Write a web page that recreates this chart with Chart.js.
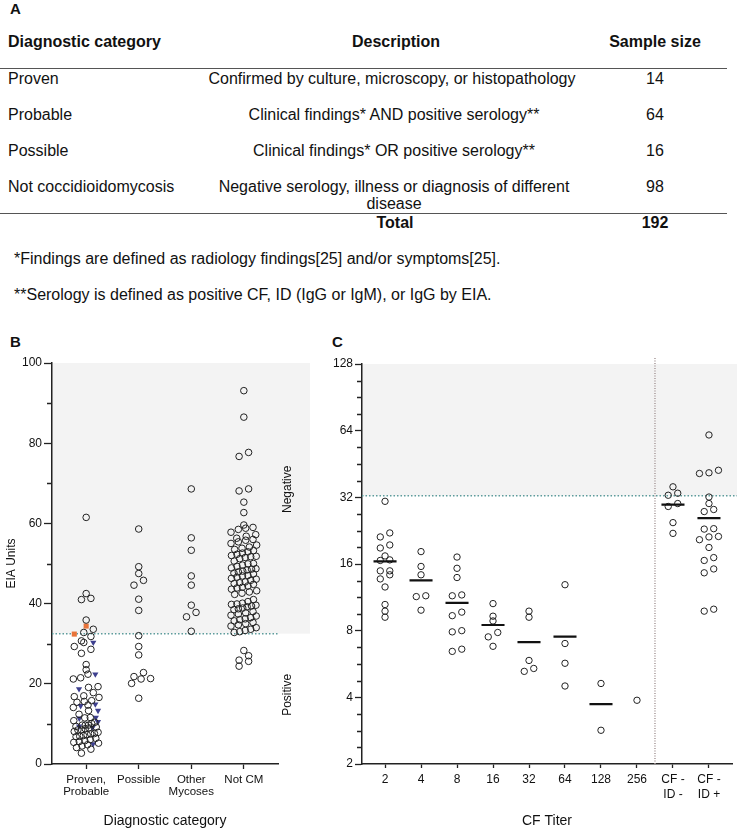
<!DOCTYPE html>
<html>
<head>
<meta charset="utf-8">
<title>EIA by diagnostic category and CF titer</title>
<script src="https://cdn.jsdelivr.net/npm/chart.js@4.4.1/dist/chart.umd.min.js"></script>
<style>
  body { margin: 0; width: 737px; height: 832px; position: relative; overflow: hidden; background: #fff; color: #111; font-family: "Liberation Sans", Arial, sans-serif; }
  .t { position: absolute; font-size: 16px; line-height: 18px; white-space: nowrap; }
  .b { font-weight: bold; }
  .c { transform: translateX(-50%); text-align: center; }
  .rule { position: absolute; left: 0; width: 727px; height: 0; border-top: 1.3px solid #555; }
  .panel { position: absolute; font-weight: bold; font-size: 15px; line-height: 18px; }
  canvas { position: absolute; }
</style>
</head>
<body>
<div class="panel" style="left:10px;top:0px">A</div>

<div class="t b" style="left:8px;top:33px">Diagnostic category</div>
<div class="t b c" style="left:396px;top:33px">Description</div>
<div class="t b c" style="left:655px;top:33px">Sample size</div>
<div class="rule" style="top:68px"></div>

<div class="t" style="left:8px;top:70px">Proven</div>
<div class="t c" style="left:392px;top:70px">Confirmed by culture, microscopy, or histopathology</div>
<div class="t c" style="left:655px;top:70px">14</div>

<div class="t" style="left:8px;top:106px">Probable</div>
<div class="t c" style="left:394px;top:106px">Clinical findings* AND positive serology**</div>
<div class="t c" style="left:655px;top:106px">64</div>

<div class="t" style="left:8px;top:142px">Possible</div>
<div class="t c" style="left:394px;top:142px">Clinical findings* OR positive serology**</div>
<div class="t c" style="left:655px;top:142px">16</div>

<div class="t" style="left:8px;top:178px">Not coccidioidomycosis</div>
<div class="t c" style="left:394px;top:178px;line-height:17px">Negative serology, illness or diagnosis of different<br>disease</div>
<div class="t c" style="left:655px;top:178px">98</div>
<div class="rule" style="top:213px"></div>

<div class="t b c" style="left:395px;top:214px">Total</div>
<div class="t b c" style="left:655px;top:214px">192</div>

<div class="t" style="left:14px;top:250px">*Findings are defined as radiology findings[25] and/or symptoms[25].</div>
<div class="t" style="left:14px;top:286px">**Serology is defined as positive CF, ID (IgG or IgM), or IgG by EIA.</div>

<div class="panel" style="left:10px;top:333px">B</div>
<div class="panel" style="left:332px;top:333px">C</div>

<canvas id="chartB" width="320" height="502" style="left:0;top:330px"></canvas>
<canvas id="chartC" width="417" height="502" style="left:320px;top:330px"></canvas>

<script>
// ---- panel B data (EIA units by diagnostic category) ----
const categoriesB = [["Proven,", "Probable"], "Possible", ["Other", "Mycoses"], "Not CM"];
const provenProbableCircles = [61.5, 42.5, 41.3, 41.0, 35.9, 33.6, 32.8, 31.8, 30.7, 30.3, 29.3, 28.6, 27.6,
  24.8, 23.5, 22.4, 21.5, 21.2, 19.3, 19.1, 17.8, 17.0, 16.8, 16.6, 15.8, 15.4, 15.6, 14.7, 14.1, 13.3, 12.4,
  11.6, 11.5, 10.8, 10.4, 10.1, 9.7, 9.7, 9.7, 9.4, 9.2, 9.0, 8.8, 8.5, 8.5, 8.1, 7.9, 7.6, 7.5, 7.3, 7.1,
  6.9, 6.8, 6.4, 6.1, 5.8, 5.6, 5.4, 5.2, 4.8, 4.5, 4.1, 3.7, 2.7];
const provenSquares = [34.4, 32.4];
const provenTriangles = [30.3, 22.4, 18.7, 14.9, 14.5, 13.3, 11.6, 11.4, 10.5, 9.4, 9.1, 5.0];
const possibleValues = [58.6, 49.2, 47.5, 45.8, 44.6, 41.1, 38.3, 32.0, 29.3, 27.2, 22.8, 21.8, 21.3, 21.2, 20.1, 16.4];
const otherMycosesValues = [68.6, 56.4, 53.3, 46.9, 44.6, 39.6, 37.8, 36.7, 33.1];
const notCmValues = [93.1, 86.5, 77.7, 76.7, 68.6, 68.1, 65.3, 62.7,
  59.6, 59.0, 58.8, 58.5, 57.8, 57.2, 56.8, 56.3, 56.0, 55.8,
  55.4, 55.0, 54.6, 54.1, 53.8, 53.5, 53.2, 52.9, 52.6, 52.3,
  52.0, 51.8, 51.7, 51.5, 51.2, 50.6, 50.0, 49.9, 49.6, 49.3,
  48.9, 48.7, 48.6, 48.4, 48.1, 47.9, 47.6, 47.4, 47.0, 46.9,
  46.6, 46.3, 46.1, 45.8, 45.4, 45.2, 45.0, 44.8, 44.4, 44.1,
  43.9, 43.6, 43.2, 42.9, 42.6, 42.3, 36.2, 38.7, 41.0, 40.5,
  40.1, 39.9, 39.8, 39.6, 39.4, 39.2, 38.9, 38.5, 38.0, 37.7,
  37.4, 37.1, 36.9, 36.5, 36.0, 35.7, 35.3, 35.0, 34.7, 34.4,
  34.0, 33.6, 33.3, 33.0, 32.8,
  28.3, 27.0, 25.9, 25.6, 24.4];
const eiaTicksB = [0, 20, 40, 60, 80, 100];
const eiaMinorB = [10, 30, 50, 70, 90];
const eiaCutoff = 32.5;

// ---- panel C data (EIA units by CF titer) ----
const cfCategories = ["2", "4", "8", "16", "32", "64", "128", "256", ["CF -", "ID -"], ["CF -", "ID +"]];
const titer2 = [30.7, 22.1, 21.2, 19.5, 18.9, 17.4, 16.7, 16.6, 14.9, 14.9, 14.3, 13.7, 12.6, 10.5, 9.8, 9.2];
const titer4 = [18.2, 15.6, 14.3, 11.5, 11.4, 9.9];
const titer8 = [17.2, 15.3, 13.9, 11.6, 11.5, 9.7, 9.35, 8.0, 7.9, 6.6, 6.45];
const titer16 = [10.6, 9.3, 8.85, 7.85, 7.5, 6.8];
const titer32 = [9.8, 9.2, 5.87, 5.4, 5.24];
const titer64 = [12.9, 7.0, 5.7, 4.5];
const titer128 = [4.62, 2.84];
const titer256 = [3.88];
const cfNegIdNeg = [35.7, 33.4, 32.7, 30.0, 29.1, 24.6, 22.0];
const cfNegIdPos = [61.2, 42.4, 41.3, 41.0, 32.1, 30.0, 28.2, 27.6, 23.1, 23.0, 21.3, 21.2, 20.6, 19.0, 17.1, 16.6, 15.2, 14.6, 10.0, 9.8];
const eiaTicksC = [2, 4, 8, 16, 32, 64, 128];

const INK = "#222";
Chart.defaults.font.family = '"Liberation Sans", Arial, sans-serif';
Chart.defaults.color = "#111";

// shaded negative zone, cutoff line, separator, minor ticks, side labels
const guides = {
  id: "guides",
  beforeDraw(chart, args, o) {
    const { ctx, chartArea: a, scales: { y } } = chart;
    const yc = y.getPixelForValue(o.cutoff);
    const right = o.shadeToEdge ? chart.width : a.right + o.shadeExtra;
    ctx.save();
    ctx.fillStyle = "#f3f3f3";
    ctx.fillRect(a.left, a.top, right - a.left, yc - a.top);
    ctx.restore();
  },
  beforeDatasetsDraw(chart, args, o) {
    const { ctx, chartArea: a, scales: { x, y } } = chart;
    const yc = y.getPixelForValue(o.cutoff);
    ctx.save();
    ctx.lineWidth = 1.5;
    ctx.strokeStyle = "#5d9c9c";
    ctx.setLineDash([1.5, 2]);
    ctx.beginPath();
    ctx.moveTo(a.left, yc);
    ctx.lineTo(o.shadeToEdge ? chart.width : a.right, yc);
    ctx.stroke();
    if (o.separator != null) {
      const xs = x.getPixelForValue(o.separator);
      ctx.strokeStyle = "#a89a9a";
      ctx.setLineDash([1, 1.5]);
      ctx.beginPath();
      ctx.moveTo(xs, a.top - 6);
      ctx.lineTo(xs, a.bottom);
      ctx.stroke();
    }
    ctx.setLineDash([]);
    ctx.strokeStyle = INK;
    ctx.lineWidth = 1.3;
    ctx.beginPath();
    o.minor.forEach(v => {
      const py = Math.round(y.getPixelForValue(v)) + 0.5;
      ctx.moveTo(a.left - o.minorLen, py);
      ctx.lineTo(a.left, py);
    });
    ctx.stroke();
    if (o.negAt != null) {
      ctx.fillStyle = "#111";
      ctx.font = '12px "Liberation Sans", Arial, sans-serif';
      ctx.textAlign = "center";
      ctx.textBaseline = "middle";
      [["Negative", o.negAt], ["Positive", o.posAt]].forEach(([txt, at]) => {
        ctx.save();
        ctx.translate(a.right + 10, y.getPixelForValue(at));
        ctx.rotate(-Math.PI / 2);
        ctx.fillText(txt, 0, 0);
        ctx.restore();
      });
    }
    ctx.restore();
  }
};

// Prism-like scatter: points of similar value share a row, centred on the category
function spread(chart, groups, o) {
  const xs = chart.scales.x, ys = chart.scales.y;
  const unit = xs.getPixelForValue(1) - xs.getPixelForValue(0);
  groups.forEach((pts, ci) => {
    const sorted = pts.slice().sort((p, q) => p.y - q.y);
    let row = [], rowBase = 0, rowNo = 0;
    const flush = () => {
      const n = row.length;
      const step = n > 1 ? Math.min(o.step, o.span / (n - 1)) : 0;
      // nudge alternate crowded rows so dense clusters are staggered, not gridded
      const shift = o.stagger && n > 2 ? (rowNo % 2 ? 1 : -1) * step / 4 : 0;
      row.forEach((p, i) => { p.x = ci + ((i - (n - 1) / 2) * step + shift) / unit; });
      row = [];
      rowNo++;
    };
    sorted.forEach(p => {
      const py = ys.getPixelForValue(p.y);
      if (row.length && rowBase - py >= o.rowH) flush();
      if (!row.length) rowBase = py;
      row.push(p);
    });
    if (row.length) flush();
  });
  chart.data.datasets.forEach(ds => { ds.data = ds.data.slice(); });
  chart.update("none");
}

function addPoints(target, values, ci, groups) {
  values.forEach(v => {
    const pt = { x: ci, y: v };
    target.push(pt);
    groups[ci].push(pt);
  });
}

const circle = { pointStyle: "circle", pointBorderColor: INK, pointBackgroundColor: "rgba(0,0,0,0)", pointBorderWidth: 1 };

// ---- chart B ----
const circlesB = [], squaresB = [], trianglesB = [];
const groupsB = categoriesB.map(() => []);
addPoints(circlesB, provenProbableCircles, 0, groupsB);
addPoints(squaresB, provenSquares, 0, groupsB);
addPoints(trianglesB, provenTriangles, 0, groupsB);
addPoints(circlesB, possibleValues, 1, groupsB);
addPoints(circlesB, otherMycosesValues, 2, groupsB);
addPoints(circlesB, notCmValues, 3, groupsB);

const chartB = new Chart(document.getElementById("chartB"), {
  type: "scatter",
  data: {
    datasets: [
      { data: circlesB, ...circle, pointRadius: 3.3 },
      { data: trianglesB, pointStyle: "triangle", rotation: 180, pointRadius: 3.6, pointBackgroundColor: "#3d3f8e", pointBorderColor: "#3d3f8e", pointBorderWidth: 0 },
      { data: squaresB, pointStyle: "rect", pointRadius: 3.6, pointBackgroundColor: "#e8743b", pointBorderColor: "#e8743b", pointBorderWidth: 0 }
    ]
  },
  options: {
    responsive: false,
    animation: false,
    layout: { padding: { top: 33, right: 42, left: 0, bottom: 0 } },
    plugins: {
      legend: { display: false },
      tooltip: { enabled: false },
      guides: { cutoff: eiaCutoff, shadeToEdge: false, shadeExtra: 32, minor: eiaMinorB, minorLen: 5, negAt: 68.5, posAt: 17.25 }
    },
    scales: {
      x: {
        type: "linear", min: -0.65, max: 3.65,
        afterBuildTicks: s => { s.ticks = categoriesB.map((c, i) => ({ value: i })); },
        afterFit: s => { s.height = 68; },
        ticks: { callback: (v, i) => categoriesB[i], font: { size: 11.5, lineHeight: 1.05 }, padding: 5, maxRotation: 0, autoSkip: false },
        grid: { drawOnChartArea: false, tickLength: 5, tickColor: INK, tickWidth: 1.3 },
        border: { color: INK, width: 1.5 },
        title: { display: true, text: "Diagnostic category", font: { size: 14 }, padding: { top: 0, bottom: 2 } }
      },
      y: {
        type: "linear", min: 0, max: 100,
        afterBuildTicks: s => { s.ticks = eiaTicksB.map(v => ({ value: v })); },
        afterFit: s => { s.width = 52; },
        ticks: { font: { size: 12 }, padding: 2 },
        grid: { drawOnChartArea: false, tickLength: 8, tickColor: INK, tickWidth: 1.3 },
        border: { color: INK, width: 1.5 },
        title: { display: true, text: "EIA Units", font: { size: 12 }, padding: { top: 4, bottom: 0 } }
      }
    }
  },
  plugins: [guides]
});
spread(chartB, groupsB, { rowH: 5, step: 9.5, span: 22, stagger: true });

// ---- chart C ----
const cfGroups = [titer2, titer4, titer8, titer16, titer32, titer64, titer128, titer256, cfNegIdNeg, cfNegIdPos];
const circlesC = [];
const groupsC = cfGroups.map(() => []);
cfGroups.forEach((vals, i) => addPoints(circlesC, vals, i, groupsC));

const meanSegments = [];
cfGroups.forEach((vals, i) => {
  if (vals.length < 2) return;
  const m = vals.reduce((s, v) => s + v, 0) / vals.length;
  meanSegments.push({ x: i - 0.32, y: m }, { x: i + 0.32, y: m }, { x: i, y: null });
});

const minorC = [];
for (let k = 1; k < 7; k++) for (let j = 1; j < 4; j++) minorC.push(Math.pow(2, k + j / 4));

const chartC = new Chart(document.getElementById("chartC"), {
  type: "scatter",
  data: {
    datasets: [
      { data: meanSegments, showLine: true, spanGaps: false, borderColor: "#111", borderWidth: 2.2, pointRadius: 0 },
      { data: circlesC, ...circle, pointRadius: 3.2 }
    ]
  },
  options: {
    responsive: false,
    animation: false,
    layout: { padding: { top: 34, right: 2, left: 0, bottom: 0 } },
    plugins: {
      legend: { display: false },
      tooltip: { enabled: false },
      guides: { cutoff: eiaCutoff, shadeToEdge: true, separator: 7.5, minor: minorC, minorLen: 5 }
    },
    scales: {
      x: {
        type: "linear", min: -0.64, max: 9.64,
        afterBuildTicks: s => { s.ticks = cfCategories.map((c, i) => ({ value: i })); },
        afterFit: s => { s.height = 68; },
        ticks: { callback: (v, i) => cfCategories[i], font: { size: 12, lineHeight: 1.25 }, padding: 4, maxRotation: 0, autoSkip: false },
        grid: { drawOnChartArea: false, tickLength: 4, tickColor: INK, tickWidth: 1.3 },
        border: { color: INK, width: 1.5 },
        title: { display: true, text: "CF Titer", font: { size: 14 }, padding: { top: 0, bottom: 2 } }
      },
      y: {
        type: "logarithmic", min: 2, max: 128,
        afterBuildTicks: s => { s.ticks = eiaTicksC.map(v => ({ value: v })); },
        afterFit: s => { s.width = 42; },
        ticks: { callback: v => String(v), font: { size: 12 }, padding: 2, autoSkip: false },
        grid: { drawOnChartArea: false, tickLength: 7, tickColor: INK, tickWidth: 1.3 },
        border: { color: INK, width: 1.5 }
      }
    }
  },
  plugins: [guides]
});
spread(chartC, groupsC, { rowH: 4.5, step: 9.5, span: 30 });
</script>
</body>
</html>
